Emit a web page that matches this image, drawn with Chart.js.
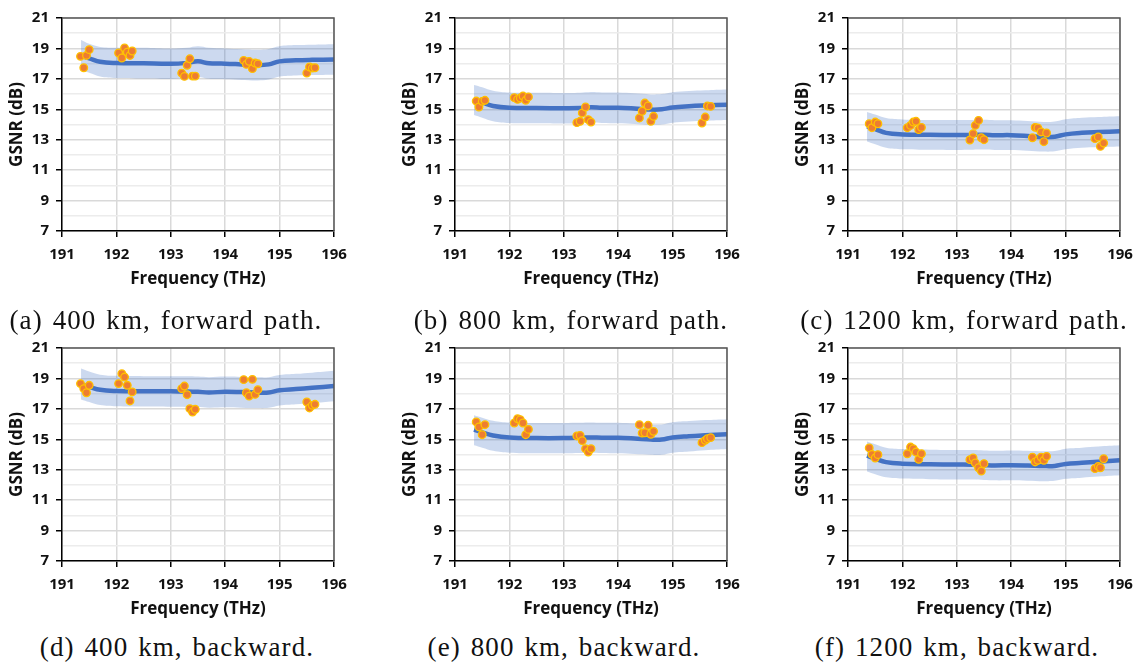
<!DOCTYPE html>
<html>
<head>
<meta charset="utf-8">
<script src="https://cdn.jsdelivr.net/npm/chart.js@4.4.1/dist/chart.umd.min.js"></script>
<style>
  body { margin: 0; background: #fff; width: 1141px; height: 666px; position: relative; overflow: hidden; }
  canvas { position: absolute; }
  .cap { position: absolute; width: 400px; text-align: center; font-family: "Liberation Serif", serif; font-size: 27px; letter-spacing: 1.1px; word-spacing: 2px; color: #111; line-height: 30px; white-space: nowrap; }
</style>
</head>
<body>
<canvas id="chartA" width="350" height="290" style="left:0px;top:0px"></canvas>
<canvas id="chartB" width="350" height="290" style="left:393px;top:0px"></canvas>
<canvas id="chartC" width="350" height="290" style="left:786px;top:0px"></canvas>
<canvas id="chartD" width="350" height="290" style="left:0px;top:330px"></canvas>
<canvas id="chartE" width="350" height="290" style="left:393px;top:330px"></canvas>
<canvas id="chartF" width="350" height="290" style="left:786px;top:330px"></canvas>
<div class="cap" style="left:-34px;top:305px">(a) 400 km, forward path.</div>
<div class="cap" style="left:371px;top:305px">(b) 800 km, forward path.</div>
<div class="cap" style="left:764px;top:305px">(c) 1200 km, forward path.</div>
<div class="cap" style="left:-23px;top:632px">(d) 400 km, backward.</div>
<div class="cap" style="left:364px;top:632px">(e) 800 km, backward.</div>
<div class="cap" style="left:757px;top:632px">(f) 1200 km, backward.</div>
<script>
// channel frequencies (THz) of the measured points
const chanA = [191.34, 191.40, 191.45, 191.50, 192.04, 192.10, 192.15, 192.20, 192.25, 192.29,
  193.20, 193.25, 193.30, 193.35, 193.40, 193.45, 194.34, 194.39, 194.44, 194.50, 194.55, 194.60,
  195.50, 195.55, 195.60, 195.65];
const chanB = [191.39, 191.44, 191.50, 191.55, 192.09, 192.15, 192.20, 192.25, 192.30, 192.35,
  193.24, 193.30, 193.34, 193.40, 193.45, 193.50, 194.39, 194.44, 194.49, 194.55, 194.60, 194.65,
  195.54, 195.60, 195.64, 195.70];

// measured GSNR (dB)
const measA = [18.48, 17.73, 18.54, 18.92, 18.70, 18.37, 19.03, 18.76, 18.54, 18.83, 17.38, 17.16, 17.89, 18.32, 17.18, 17.18, 18.21, 17.95, 18.15, 17.67, 18.04, 17.99, 17.38, 17.78, 17.71, 17.73];
const measB = [15.54, 15.15, 15.52, 15.59, 15.76, 15.65, 15.74, 15.87, 15.59, 15.81, 14.12, 14.21, 14.76, 15.15, 14.32, 14.16, 14.43, 14.87, 15.41, 15.22, 14.21, 14.54, 14.10, 14.49, 15.22, 15.19];
const measC = [14.05, 13.79, 14.16, 14.05, 13.79, 13.94, 14.16, 14.21, 13.66, 13.81, 12.98, 13.40, 13.94, 14.27, 13.13, 13.00, 13.13, 13.81, 13.77, 13.51, 12.87, 13.44, 13.07, 13.18, 12.56, 12.78];
const measD = [18.66, 18.33, 18.06, 18.55, 18.66, 19.31, 19.09, 18.55, 17.52, 18.11, 18.33, 18.50, 17.93, 17.01, 16.79, 16.97, 18.92, 18.06, 17.84, 18.94, 17.95, 18.26, 17.45, 17.06, 17.23, 17.30];
const measE = [16.14, 15.81, 15.30, 15.96, 16.07, 16.35, 16.29, 16.07, 15.30, 15.65, 15.22, 15.26, 14.91, 14.38, 14.16, 14.38, 15.96, 15.41, 15.43, 15.92, 15.33, 15.52, 14.78, 14.93, 15.04, 15.11];
const measF = [14.43, 14.01, 13.77, 13.99, 14.05, 14.49, 14.38, 14.16, 13.68, 14.05, 13.66, 13.77, 13.44, 13.13, 12.91, 13.40, 13.83, 13.51, 13.62, 13.83, 13.62, 13.88, 13.07, 13.22, 13.13, 13.72];

// estimated GSNR curve and its uncertainty band
const fitFreq = [191.35, 191.5, 191.7, 192, 192.5, 193, 193.3, 193.5, 193.7, 194, 194.3, 194.6, 194.8, 195, 195.3, 195.6, 196];

const fitA = [18.5, 18.35, 18.12, 18.04, 18.02, 17.99, 18.05, 18.15, 18.02, 18.0, 17.95, 17.9, 17.95, 18.15, 18.22, 18.25, 18.27];
const upA  = [19.55, 19.3, 19.1, 19.05, 19.05, 19.0, 19.05, 19.15, 19.05, 19.0, 18.95, 18.92, 18.97, 19.15, 19.22, 19.25, 19.28];
const loA  = [17.55, 17.4, 17.15, 17.05, 17.02, 16.99, 17.05, 17.12, 17.0, 16.98, 16.93, 16.9, 16.95, 17.15, 17.22, 17.25, 17.27];

const fitB = [15.63, 15.45, 15.22, 15.1, 15.08, 15.07, 15.08, 15.13, 15.1, 15.1, 15.05, 14.98, 15.0, 15.12, 15.2, 15.25, 15.3];
const upB  = [16.6, 16.45, 16.22, 16.1, 16.08, 16.07, 16.08, 16.13, 16.1, 16.1, 16.05, 15.98, 16.0, 16.12, 16.2, 16.25, 16.3];
const loB  = [14.62, 14.45, 14.22, 14.1, 14.08, 14.07, 14.08, 14.13, 14.1, 14.08, 14.03, 13.98, 14.0, 14.12, 14.2, 14.25, 14.3];

const fitC = [13.88, 13.7, 13.45, 13.35, 13.32, 13.31, 13.32, 13.33, 13.3, 13.3, 13.25, 13.18, 13.2, 13.35, 13.45, 13.5, 13.55];
const upC  = [14.82, 14.65, 14.42, 14.33, 14.3, 14.29, 14.3, 14.31, 14.28, 14.28, 14.23, 14.17, 14.2, 14.35, 14.45, 14.5, 14.55];
const loC  = [12.88, 12.7, 12.47, 12.37, 12.34, 12.33, 12.34, 12.35, 12.32, 12.32, 12.27, 12.22, 12.24, 12.37, 12.47, 12.52, 12.56];

const fitD = [18.6, 18.45, 18.25, 18.17, 18.15, 18.15, 18.14, 18.12, 18.08, 18.12, 18.1, 18.07, 18.08, 18.22, 18.3, 18.38, 18.5];
const upD  = [19.65, 19.45, 19.25, 19.17, 19.15, 19.15, 19.14, 19.12, 19.08, 19.12, 19.1, 19.07, 19.08, 19.22, 19.3, 19.38, 19.5];
const loD  = [17.62, 17.45, 17.25, 17.17, 17.15, 17.14, 17.13, 17.12, 17.08, 17.1, 17.08, 17.05, 17.07, 17.22, 17.3, 17.38, 17.5];

const fitE = [15.63, 15.45, 15.25, 15.12, 15.08, 15.08, 15.1, 15.12, 15.1, 15.1, 15.05, 14.98, 14.98, 15.12, 15.2, 15.26, 15.33];
const upE  = [16.58, 16.42, 16.22, 16.1, 16.07, 16.07, 16.08, 16.1, 16.08, 16.08, 16.03, 15.98, 15.98, 16.12, 16.2, 16.26, 16.32];
const loE  = [14.6, 14.45, 14.25, 14.12, 14.08, 14.08, 14.1, 14.12, 14.1, 14.08, 14.03, 13.98, 13.98, 14.12, 14.2, 14.28, 14.36];

const fitF = [13.92, 13.72, 13.5, 13.4, 13.36, 13.34, 13.33, 13.3, 13.28, 13.3, 13.28, 13.24, 13.25, 13.38, 13.45, 13.52, 13.62];
const upF  = [14.86, 14.68, 14.45, 14.36, 14.32, 14.3, 14.29, 14.27, 14.25, 14.27, 14.25, 14.22, 14.23, 14.38, 14.45, 14.52, 14.6];
const loF  = [12.88, 12.7, 12.5, 12.42, 12.38, 12.36, 12.35, 12.32, 12.3, 12.3, 12.28, 12.25, 12.27, 12.4, 12.48, 12.55, 12.63];

const toXY = (xs, ys) => xs.map((x, i) => ({x: x, y: ys[i]}));
const isOdd = (v) => Math.abs(Math.round(v)) % 2 === 1;

// box around the plot area (right/top edges)
const frame = {
  id: 'frame',
  afterDraw: (chart) => {
    const {ctx, chartArea: a} = chart;
    ctx.save();
    ctx.strokeStyle = '#555';
    ctx.lineWidth = 1.5;
    ctx.beginPath();
    ctx.moveTo(a.left, a.top);
    ctx.lineTo(a.right, a.top);
    ctx.lineTo(a.right, a.bottom);
    ctx.stroke();
    ctx.restore();
  }
};

const tickFont = {family: 'Open Sans', weight: 'bold', size: 15};
const titleFont = {family: 'Open Sans', weight: 'bold', size: 17};

const plotPanel = (where, chan, meas, fit, up, lo) => {
  const ctx = document.getElementById(where).getContext('2d');
  new Chart(ctx, {
    type: 'scatter',
    data: {
      datasets: [
        {data: toXY(chan, meas), backgroundColor: '#ed7d31', borderColor: '#ffc000', borderWidth: 1.3, pointRadius: 3.8, order: 0},
        {data: toXY(fitFreq, fit), showLine: true, borderColor: '#4472c4', borderWidth: 4.5, pointRadius: 0, tension: 0.4, order: 1},
        {data: toXY(fitFreq, up), showLine: true, borderWidth: 0, borderColor: 'rgba(0,0,0,0)', pointRadius: 0, tension: 0.4,
          fill: '+1', backgroundColor: 'rgba(68,114,196,0.27)', order: 2},
        {data: toXY(fitFreq, lo), showLine: true, borderWidth: 0, borderColor: 'rgba(0,0,0,0)', pointRadius: 0, tension: 0.4, order: 3}
      ]
    },
    options: {
      responsive: false,
      animation: false,
      layout: {padding: {left: 0, right: 16, top: 18, bottom: 0}},
      plugins: {legend: {display: false}, tooltip: {enabled: false}},
      scales: {
        x: {
          min: 191, max: 196,
          afterFit: (s) => { s.height = 59; s.paddingLeft = 0; s.paddingRight = 0; },
          ticks: {stepSize: 1, color: '#111', font: tickFont, padding: 9, maxRotation: 0},
          grid: {color: '#d9d9d9', lineWidth: 1.5, tickColor: '#000', tickLength: 6},
          border: {color: '#000', width: 1.5},
          title: {display: true, text: 'Frequency (THz)', color: '#111', font: titleFont, padding: {top: 0, bottom: 1}}
        },
        y: {
          min: 7, max: 21,
          afterFit: (s) => { s.width = 62; s.paddingTop = 0; s.paddingBottom = 0; },
          ticks: {stepSize: 1, autoSkip: false, color: '#111', font: tickFont, padding: 7,
            callback: (v) => isOdd(v) ? v : ''},
          grid: {
            color: (c) => isOdd(c.tick.value) ? '#d9d9d9' : '#ececec',
            tickColor: (c) => isOdd(c.tick.value) ? '#000' : 'rgba(0,0,0,0)',
            lineWidth: 1.5, tickLength: 6
          },
          border: {color: '#000', width: 1.5},
          title: {display: true, text: 'GSNR (dB)', color: '#111', font: titleFont, padding: {top: 7, bottom: 0}}
        }
      }
    },
    plugins: [frame]
  });
};

window.onload = function () {
  plotPanel('chartA', chanA, measA, fitA, upA, loA);
  plotPanel('chartB', chanB, measB, fitB, upB, loB);
  plotPanel('chartC', chanB, measC, fitC, upC, loC);
  plotPanel('chartD', chanA, measD, fitD, upD, loD);
  plotPanel('chartE', chanB, measE, fitE, upE, loE);
  plotPanel('chartF', chanB, measF, fitF, upF, loF);
};
</script>
</body>
</html>
